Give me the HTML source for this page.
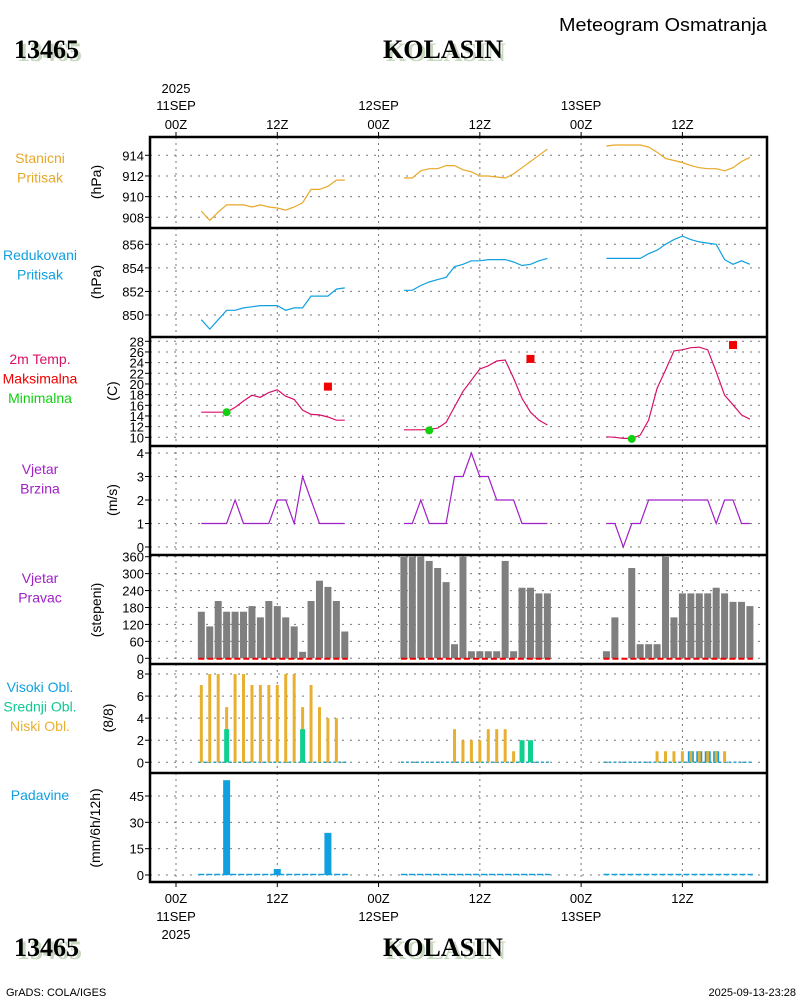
<!DOCTYPE html>
<html><head><meta charset="utf-8"><style>
html,body{margin:0;padding:0;background:#fff;}
svg{display:block;font-family:"Liberation Sans",sans-serif;}
.t{font-size:13px;fill:#000;}
</style></head><body>
<svg id="chart" width="800" height="1000" xmlns="http://www.w3.org/2000/svg">
<g>
<text x="14" y="58" font-family="Liberation Serif" font-weight="bold" font-size="26" fill="#c8d8c0" transform="translate(3,3)">13465</text>
<text x="14" y="58" font-family="Liberation Serif" font-weight="bold" font-size="26" fill="#000">13465</text>
<text x="443" y="58" text-anchor="middle" font-family="Liberation Serif" font-weight="bold" font-size="26" fill="#c8d8c0" transform="translate(3,3)">KOLASIN</text>
<text x="443" y="58" text-anchor="middle" font-family="Liberation Serif" font-weight="bold" font-size="26" fill="#000">KOLASIN</text>
<text x="767" y="31" text-anchor="end" font-size="18" fill="#000" textLength="208" lengthAdjust="spacingAndGlyphs">Meteogram Osmatranja</text>
</g>
<g>
<text x="14" y="956" font-family="Liberation Serif" font-weight="bold" font-size="26" fill="#c8d8c0" transform="translate(3,3)">13465</text>
<text x="14" y="956" font-family="Liberation Serif" font-weight="bold" font-size="26" fill="#000">13465</text>
<text x="443" y="956" text-anchor="middle" font-family="Liberation Serif" font-weight="bold" font-size="26" fill="#c8d8c0" transform="translate(3,3)">KOLASIN</text>
<text x="443" y="956" text-anchor="middle" font-family="Liberation Serif" font-weight="bold" font-size="26" fill="#000">KOLASIN</text>
<text x="6" y="996" font-size="11" fill="#000">GrADS: COLA/IGES</text>
<text x="796" y="996" text-anchor="end" font-size="11" fill="#000">2025-09-13-23:28</text>
</g>
<g id="g"></g>
</svg>
<script>
// ---- data (hourly, 3 segments starting at hours 3, 27, 51) ----
const segStart = [3, 27, 51];
const stPres = [
 [908.6,907.7,908.5,909.2,909.2,909.2,909.0,909.2,909.0,908.9,908.7,909.0,909.4,910.7,910.7,911.0,911.6,911.6],
 [911.8,911.8,912.5,912.7,912.7,913.0,913.0,912.6,912.4,912.0,912.0,911.9,911.8,912.2,912.8,913.4,914.0,914.6],
 [914.9,915.0,915.0,915.0,915.0,914.8,914.3,913.7,913.5,913.3,913.0,912.8,912.7,912.7,912.5,912.8,913.4,913.8]];
const redPres = [
 [849.6,848.8,849.6,850.4,850.4,850.6,850.7,850.8,850.8,850.8,850.4,850.6,850.6,851.6,851.6,851.6,852.2,852.3],
 [852.1,852.1,852.5,852.8,853.0,853.2,854.1,854.3,854.6,854.6,854.7,854.7,854.7,854.5,854.2,854.3,854.6,854.8],
 [854.8,854.8,854.8,854.8,854.8,855.2,855.5,856.0,856.4,856.7,856.4,856.2,856.1,856.0,854.7,854.3,854.6,854.3]];
const temp = [
 [14.7,14.7,14.7,14.7,15.6,16.8,17.9,17.5,18.4,18.9,17.7,17.1,15.1,14.3,14.2,13.8,13.2,13.2],
 [11.4,11.4,11.4,11.5,11.7,12.8,15.7,18.6,20.7,22.8,23.4,24.3,24.5,21.1,17.3,14.7,13.2,12.3],
 [10.1,10.0,9.8,9.8,10.4,13.2,19.2,22.6,26.2,26.4,26.8,26.9,26.4,22.3,17.9,16.1,14.2,13.4]];
const tMaxHour = [18, 42, 66];
const tMaxVal = [19.5, 24.7, 27.3];
const tMinHour = [6, 30, 54];
const tMinVal = [14.7, 11.3, 9.7];
const windSpd = [
 [1,1,1,1,2,1,1,1,1,2,2,1,3,2,1,1,1,1],
 [1,1,2,1,1,1,3,3,4,3,3,2,2,2,1,1,1,1],
 [1,1,0,1,1,2,2,2,2,2,2,2,2,1,2,2,1,1]];
const windDir = [
 [165,113,203,165,165,165,185,145,203,185,145,113,23,203,275,253,203,95],
 [360,360,360,345,320,270,50,360,25,25,25,25,345,25,250,250,230,230],
 [25,145,0,320,50,50,50,360,145,230,230,230,230,250,230,200,200,185]];
const cloudLow = [
 [7,8,8,5,8,8,7,7,7,7,8,8,5,7,5,4,4,0],
 [0,0,0,0,0,0,3,2,2,2,3,3,3,1,0,0,0,0],
 [0,0,0,0,0,0,1,1,1,1,1,1,1,1,1,0,0,0]];
const cloudMid = [
 [0,0,0,3,0,0,0,0,0,0,0,0,3,0,0,0,0,0],
 [0,0,0,0,0,0,0,0,0,0,0,0,0,0,2,2,0,0],
 [0,0,0,0,0,0,0,0,0,0,0,0,0,0,0,0,0,0]];
const cloudHigh = [
 [0,0,0,0,0,0,0,0,0,0,0,0,0,0,0,0,0,0],
 [0,0,0,0,0,0,0,0,0,0,0,0,0,0,0,0,0,0],
 [0,0,0,0,0,0,0,0,0,0,1,1,1,1,0,0,0,0]];
const precip = [
 [0,0,0,54,0,0,0,0,0,3.4,0,0,0,0,0,24,0,0],
 [0,0,0,0,0,0,0,0,0,0,0,0,0,0,0,0,0,0],
 [0,0,0,0,0,0,0,0,0,0,0,0,0,0,0,0,0,0]];
const ticksP1 = [908,910,912,914];
const ticksP2 = [850,852,854,856];
const ticksT = [10,12,14,16,18,20,22,24,26,28];
const ticksWS = [0,1,2,3,4];
const ticksWD = [0,60,120,180,240,300,360];
const ticksCl = [0,2,4,6,8];
const ticksPr = [0,15,30,45];
const timeTicks = [0,12,24,36,48,60];
const timeLabels = ["00Z","12Z","00Z","12Z","00Z","12Z"];

// ---- axes ----
const L=150,R=767;
const X = h => 176 + h*8.44;
const lin = (v0,y0,v1,y1) => v => y0 + (v-v0)*(y1-y0)/(v1-v0);
const yP1 = lin(908,217.3,914,155.3);
const yP2 = lin(850,315,856,244.3);
const yT = lin(10,437.3,28,341.3);
const yWS = lin(0,547,4,453);
const yWD = lin(0,658.3,360,556.7);
const yCl = lin(0,762.3,8,674);
const yPr = lin(0,875,45,796);
const panels=[137,228,337,446,555,664,773,882];

const NS="http://www.w3.org/2000/svg";
const G=document.getElementById('g');
function mk(tag,attrs,parent){const e=document.createElementNS(NS,tag);for(const k in attrs)e.setAttribute(k,attrs[k]);(parent||G).appendChild(e);return e;}
function txt(s,attrs,parent){const e=mk('text',attrs,parent);e.textContent=s;return e;}

const grid=mk('g',{});


for(let p=0;p<7;p++){
  timeTicks.forEach(h=>{mk('line',{x1:X(h),x2:X(h),y1:panels[p],y2:panels[p+1],stroke:'#777','stroke-dasharray':'2,4','stroke-width':1},grid);});
}
function yAxis(ticks,fy,name){
  const g=mk('g',{});
  
  
  ticks.forEach(v=>{const y=fy(v);
    mk('line',{x1:L,x2:R,y1:y,y2:y,stroke:'#777','stroke-dasharray':'2,6','stroke-width':1},g);
    mk('line',{x1:L-5,x2:L,y1:y,y2:y,stroke:'#000','stroke-width':1},g);
    txt(String(v),{x:L-6,y:y+5,'text-anchor':'end',class:'t'},g);
  });
}
yAxis(ticksP1,yP1,'y-axis-station-pressure');
yAxis(ticksP2,yP2,'y-axis-reduced-pressure');
yAxis(ticksT,yT,'y-axis-temperature');
yAxis(ticksWS,yWS,'y-axis-wind-speed');
yAxis(ticksWD,yWD,'y-axis-wind-direction');
yAxis(ticksCl,yCl,'y-axis-clouds');
yAxis(ticksPr,yPr,'y-axis-precip');

const tax=mk('g',{});


timeTicks.forEach((h,i)=>{
  mk('line',{x1:X(h),x2:X(h),y1:132,y2:137,stroke:'#000'},tax);
  mk('line',{x1:X(h),x2:X(h),y1:882,y2:887,stroke:'#000'},tax);
  txt(timeLabels[i],{x:X(h),y:129,'text-anchor':'middle',class:'t'},tax);
  txt(timeLabels[i],{x:X(h),y:903,'text-anchor':'middle',class:'t'},tax);
});
[[0,"11SEP"],[24,"12SEP"],[48,"13SEP"]].forEach(([h,s])=>{
  txt(s,{x:X(h),y:110,'text-anchor':'middle',class:'t'},tax);
  txt(s,{x:X(h),y:921,'text-anchor':'middle',class:'t'},tax);
});
txt("2025",{x:X(0),y:93,'text-anchor':'middle',class:'t'},tax);
txt("2025",{x:X(0),y:939,'text-anchor':'middle',class:'t'},tax);

function series(data,fy,color,name){
  data.forEach((arr,s)=>{
    const pts=arr.map((v,i)=>X(segStart[s]+i).toFixed(1)+','+fy(v).toFixed(1)).join(' ');
    const e=mk('polyline',{points:pts,fill:'none',stroke:color,'stroke-width':1.2});
    
    
  });
}
series(stPres,yP1,'#e8a828','station-pressure-line');
series(redPres,yP2,'#10a0e0','reduced-pressure-line');
series(temp,yT,'#d81068','temperature-line');
series(windSpd,yWS,'#a020c8','wind-speed-line');
tMaxHour.forEach((h,i)=>{const e=mk('rect',{x:X(h)-4,y:yT(tMaxVal[i])-4,width:8,height:8,fill:'#f00000'});
  
  });
tMinHour.forEach((h,i)=>{const e=mk('circle',{cx:X(h),cy:yT(tMinVal[i]),r:4,fill:'#10d010'});
  
  });

function bars(data,fy,color,w,name){
  data.forEach((arr,s)=>arr.forEach((v,i)=>{ if(v<=0) return;
    const x=X(segStart[s]+i), y=fy(v), y0=fy(0);
    const e=mk('rect',{x:x-w/2,y:y,width:w,height:y0-y,fill:color});
    
    
  }));
}
function baseline(fy,color,dash,name,w){
  segStart.forEach((h0,s)=>{const e=mk('line',{x1:X(h0)-3,x2:X(h0+17)+3,y1:fy(0),y2:fy(0),stroke:color,'stroke-width':w,'stroke-dasharray':dash});
    
    });
}
bars(windDir,yWD,'#7f7f7f',7,'wind-direction-bar');
baseline(v=>yWD(0)+0.5,'#f00000','6,3','calm-line',2);
baseline(yCl,'#30a0c0','3,2','cloud-baseline',1.5);
bars(cloudHigh,yCl,'#10a0e0',6,'high-cloud-bar');
bars(cloudLow,yCl,'#e8b030',3,'low-cloud-bar');
bars(cloudMid,yCl,'#10d090',5,'mid-cloud-bar');
baseline(v=>yPr(0)-0.5,'#10a0e0','6,2','precip-baseline',1.5);
bars(precip,yPr,'#10a0e0',7,'precip-bar');

const fr=mk('g',{});


mk('rect',{x:L,y:137,width:R-L,height:882-137,fill:'none',stroke:'#000','stroke-width':2.5},fr);
panels.slice(1,-1).forEach(y=>mk('line',{x1:L,x2:R,y1:y,y2:y,stroke:'#000','stroke-width':2.5},fr));

const lab=[
 [["Stanicni","#e8a828"],["Pritisak","#e8a828"],163,"(hPa)",182],
 [["Redukovani","#10a0e0"],["Pritisak","#10a0e0"],260,"(hPa)",282],
 [["2m Temp.","#d81068"],["Maksimalna","#f00000"],["Minimalna","#10d010"],364,"(C)",391],
 [["Vjetar","#a020c8"],["Brzina","#a020c8"],474,"(m/s)",500],
 [["Vjetar","#a020c8"],["Pravac","#a020c8"],583,"(stepeni)",610],
 [["Visoki Obl.","#10a0e0"],["Srednji Obl.","#10c890"],["Niski Obl.","#e8b030"],692,"(8/8)",718],
 [["Padavine","#10a0e0"],800,"(mm/6h/12h)",828]];
lab.forEach((l,p)=>{
  const n=l.length-3, y0=l[n], unit=l[n+1], uy=l[n+2];
  for(let i=0;i<n;i++){
    const e=txt(l[i][0],{x:40,y:y0+i*19.5,'text-anchor':'middle','font-size':14,fill:l[i][1]});
    
    
  }
  const u=txt(unit,{x:0,y:0,'text-anchor':'middle','font-size':14,fill:'#000',transform:'translate('+(p==3||p==2?117:p==5?113:p==6?100:101)+','+uy+') rotate(-90)'});
  
  
});
</script>
</body></html>
